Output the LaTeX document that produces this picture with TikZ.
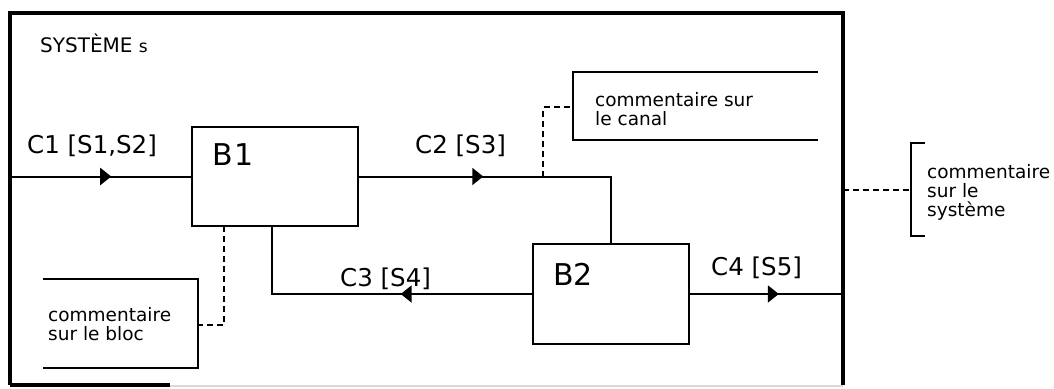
\documentclass[tikz,border=0pt]{standalone}
\usepackage{fontspec}
\setmainfont{DejaVu Sans}
\usetikzlibrary{decorations.markings,arrows.meta}
\tikzset{
  blocbox/.style={draw,line width=2.4pt,minimum width=#1,inner sep=0pt},
  chan/.style={line width=2pt},
  flowmark/.style={postaction={decorate},decoration={markings,
      mark=at position #1 with {\arrow{Triangle[length=11pt,width=17pt]}}}},
  commline/.style={line width=2pt,dash pattern=on 6pt off 4pt},
  brack/.style={line width=2.2pt},
  lbl/.style={anchor=base west,inner sep=0pt,font=\fontsize{24.5}{28}\selectfont},
  blbl/.style={anchor=base west,inner sep=0pt,font=\fontsize{30}{34}\selectfont},
  comm/.style={anchor=north west,inner sep=0pt,align=left,font=\fontsize{18.5}{19}\selectfont},
}
\begin{document}
\begin{tikzpicture}[x=1pt,y=-1pt]
\useasboundingbox (0,0) rectangle (1054,388);
% system frame
\draw[line width=3.4pt] (10,385) -- (10,13) -- (843,13) -- (843,385);
\draw[line width=3.4pt] (10,385) -- (170,385);
\draw[line width=1.2pt,black!15] (170,386) -- (843,386);
\node[anchor=base west,inner sep=0pt,font=\fontsize{20}{22}\selectfont] (sys) at (40,52) {SYSTÈME \fontsize{17}{18}\selectfont s};
% blocks
\node[blocbox=166pt,minimum height=99pt] (B1) at (275,176.5) {};
\node[blocbox=156pt,minimum height=100pt] (B2) at (611,294) {};
\node[blbl] (B1t) at (212,165) {B\kern2pt 1};
\node[blbl] (B2t) at (553,285) {B2};
% channels
\coordinate (inC1) at (10,176.5);
\coordinate (outC4) at (843,294);
\coordinate (B1s) at (272,226);
\draw[chan,flowmark=0.56] (inC1) -- (B1.west);
\draw[chan,flowmark=0.39] (B1.east) -| (B2.north);
\draw[chan,flowmark=0.40] (B2.west) -| (B1s);
\draw[chan,flowmark=0.58] (B2.east) -- (outC4);
\node[lbl] (C1) at (27,153) {C1 [S1,S2]};
\node[lbl] (C2) at (415,153) {C2 [S3]};
\node[lbl] (C3) at (340,286) {C3 [S4]};
\node[lbl] (C4) at (711,275) {C4 [S5]};
% comment on channel
\coordinate (cc1) at (818,72);
\coordinate (cc2) at (573,72);
\coordinate (cc3) at (573,140);
\coordinate (cc4) at (818,140);
\coordinate (ccm) at (573,107);
\coordinate (ccj) at (543,176.5);
\draw[brack] (cc1) -- (cc2) -- (cc3) -- (cc4);
\draw[commline] (ccj) |- (ccm);
\node[comm] (canal) at (595,92) {commentaire sur\\le canal};
% comment on block
\coordinate (cb1) at (43,279);
\coordinate (cb2) at (198,279);
\coordinate (cb3) at (198,368);
\coordinate (cb4) at (43,368);
\coordinate (cbm) at (198,325);
\coordinate (B1d) at (224,226);
\draw[brack] (cb1) -- (cb2) -- (cb3) -- (cb4);
\draw[commline] (B1d) |- (cbm);
\node[comm] (bloc) at (48,307) {commentaire\\sur le bloc};
% comment on system
\coordinate (cs1) at (925,143);
\coordinate (cs2) at (911,143);
\coordinate (cs3) at (911,236);
\coordinate (cs4) at (925,236);
\coordinate (csm) at (911,190);
\coordinate (csj) at (843,190);
\draw[brack] (cs1) -- (cs2) -- (cs3) -- (cs4);
\draw[commline] (csj) -- (csm);
\node[comm] (systc) at (927,164) {commentaire\\sur le\\système};
\end{tikzpicture}
\end{document}
